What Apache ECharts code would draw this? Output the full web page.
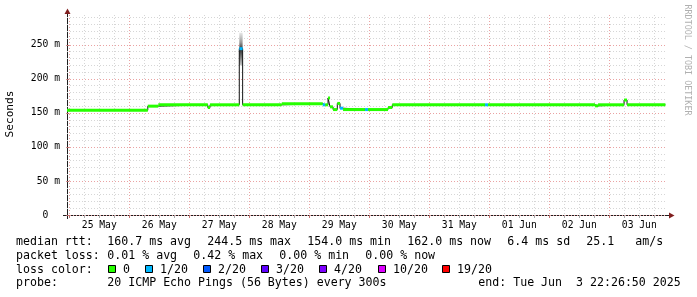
<!DOCTYPE html>
<html><head><meta charset="utf-8">
<script src="https://cdn.jsdelivr.net/npm/echarts@6/dist/echarts.min.js"></script>
<style>html,body{margin:0;padding:0;background:#fff}#c{width:697px;height:297px}</style>
</head><body><div id="c"></div>
<script>
// ---------------- data ----------------
const axisStart = '2025-05-24 23:05';
const axisEnd   = '2025-06-03 23:05';
const dataEnd   = '2025-06-03 22:26';
// median RTT (ms) step segments: value holds from segStart[i] to the next start
const segStart = [
  '2025-05-24 23:05','2025-05-26 07:24','2025-05-26 11:36','2025-05-27 07:24','2025-05-27 08:18',
  '2025-05-27 20:00','2025-05-27 21:20','2025-05-28 13:00','2025-05-29 05:24','2025-05-29 06:24',
  '2025-05-29 07:30','2025-05-29 08:18','2025-05-29 09:30','2025-05-29 11:12','2025-05-29 12:18',
  '2025-05-29 13:30','2025-05-29 22:18','2025-05-29 23:30','2025-05-30 07:30','2025-05-30 09:12',
  '2025-05-31 22:18','2025-05-31 23:30','2025-06-02 18:18','2025-06-02 19:30','2025-06-03 05:54',
  '2025-06-03 07:06'
];
const segValue = [
  154, 160, 162, 158, 162,
  244.5, 162, 163.5, 162, 162,
  172, 159, 155, 164, 157,
  155, 155, 155, 158, 162,
  162, 162, 160.5, 162, 169,
  162
];
// loss bucket index per segment (0 = no loss, 1 = 1/20, ...)
const segLoss = [
  0, 0, 0, 0, 0,
  1, 0, 0, 1, 0,
  0, 0, 0, 0, 1,
  0, 1, 0, 0, 0,
  1, 0, 0, 0, 0,
  0
];
// smoke (ping spread) visible around the spike
const smokeStart = ['2025-05-27 20:00'];
const smokeEnd   = ['2025-05-27 21:20'];
const smokeLow   = [220];
const smokeMid   = [244.5];
const smokeHigh  = [268];

const dayLabels = ['25 May','26 May','27 May','28 May','29 May','30 May','31 May','01 Jun','02 Jun','03 Jun'];
const yTickValues = [0, 50, 100, 150, 200, 250];
const yTickLabels = ['0  ', '50 m', '100 m', '150 m', '200 m', '250 m'];
const yMax = 294;

const lossLabels = ['0', '1/20', '2/20', '3/20', '4/20', '10/20', '19/20'];
const lossColors = ['#26ff00', '#00b8ff', '#0059ff', '#5e00ff', '#7e00ff', '#dd00ff', '#ff0000'];

const rttTitle = 'median rtt:';
const rttStats = ['160.7 ms avg', '244.5 ms max', '154.0 ms min', '162.0 ms now', '6.4 ms sd'];
const ampValue = '25.1';
const ampUnit = 'am/s';
const lossTitle = 'packet loss:';
const lossStats = ['0.01 % avg', '0.42 % max', '0.00 % min', '0.00 % now'];
const colorTitle = 'loss color:';
const probeTitle = 'probe:';
const probeText = '20 ICMP Echo Pings (56 Bytes) every 300s';
const endText = 'end: Tue Jun  3 22:26:50 2025';
const yName = 'Seconds';
const credit = 'RRDTOOL / TOBI OETIKER';

// ---------------- helpers ----------------
const H0 = Date.UTC(2025, 4, 25, 0, 0);
function toH(s) {
  const m = s.match(/(\d+)-(\d+)-(\d+) (\d+):(\d+)/);
  return (Date.UTC(+m[1], +m[2] - 1, +m[3], +m[4], +m[5]) - H0) / 3600000;
}
const xMin = toH(axisStart), xMax = toH(axisEnd);
const starts = segStart.map(toH);
const ends = starts.slice(1).concat([toH(dataEnd)]);
const segs = starts.map((s, i) => [s, ends[i], segValue[i], segLoss[i]]);
const medianLine = starts.map((s, i) => [s, segValue[i]]).concat([[toH(dataEnd), segValue[segValue.length - 1]]]);
const smoke = smokeStart.map((s, i) => [toH(s), toH(smokeEnd[i]), smokeLow[i], smokeMid[i], smokeHigh[i]]);

const minorX = [], majorX = [];
for (let h = Math.ceil(xMin / 6) * 6; h <= xMax; h += 6) ((h % 24) === 0 ? majorX : minorX).push(h);
const noonX = dayLabels.map((_, i) => 12 + 24 * i);
const minorY = [], majorY = [];
for (let v = 0; v <= yMax; v += 10) ((v % 50) === 0 ? majorY : minorY).push(v);

const MONO = 'DejaVu Sans Mono';
const minorColor = '#d6d6d6';
const majorColor = '#eaa2a2';

// ---------------- legend graphics ----------------
const LX = 16, VX = 107.3;
const rows = [241.5, 255.5, 269.5, 283.3];
const g = [];
function txt(x, y, s, extra) {
  g.push(Object.assign({type: 'text', x: x, y: y, style: {text: s, fontFamily: MONO, fontSize: 11.6, fill: '#000', verticalAlign: 'middle', align: 'left'}}, extra || {}));
}
txt(LX, rows[0], rttTitle);
rttStats.forEach((s, i) => txt(VX + 100 * i, rows[0], s));
txt(586.3, rows[0], ampValue);
txt(635.3, rows[0], ampUnit);
txt(LX, rows[1], lossTitle);
lossStats.forEach((s, i) => txt(VX + 86 * i, rows[1], s));
txt(LX, rows[2], colorTitle);
const boxX = [108, 145, 203, 261, 319, 378, 442];
lossLabels.forEach((s, i) => {
  g.push({type: 'rect', shape: {x: boxX[i] + 0.5, y: 265.5, width: 7, height: 7}, style: {fill: lossColors[i], stroke: '#000', lineWidth: 1}});
  txt(boxX[i] + 15, rows[2], s);
});
txt(LX, rows[3], probeTitle);
txt(VX, rows[3], probeText);
txt(478.3, rows[3], endText);
g.push({type: 'text', x: 10.5, y: 114, rotation: Math.PI / 2, style: {text: yName, fontFamily: MONO, fontSize: 11.1, fill: '#000', align: 'center', verticalAlign: 'middle'}});
g.push({type: 'text', x: 687, y: 60, rotation: -Math.PI / 2, style: {text: credit, fontFamily: MONO, fontSize: 8.4, fill: '#b0b0b0', align: 'center', verticalAlign: 'middle'}});
// axis extensions and arrows (rrdtool style)
g.push({type: 'line', shape: {x1: 63, y1: 215.5, x2: 669, y2: 215.5}, style: {stroke: '#1f1f1f', lineWidth: 1}});
g.push({type: 'line', shape: {x1: 67.5, y1: 219, x2: 67.5, y2: 12}, style: {stroke: '#1f1f1f', lineWidth: 1}});
g.push({type: 'polygon', shape: {points: [[64.5, 14], [70.5, 14], [67.5, 8.5]]}, style: {fill: '#801f1f'}});
g.push({type: 'polygon', shape: {points: [[669, 212.5], [669, 218.5], [674.5, 215.5]]}, style: {fill: '#801f1f'}});

// ---------------- chart ----------------
const chart = echarts.init(document.getElementById('c'), null, {renderer: 'canvas'});
chart.setOption({
  animation: false,
  backgroundColor: '#ffffff',
  grid: {left: 67, top: 15, width: 600, height: 200, containLabel: false, outerBoundsMode: 'none'},
  xAxis: [
    {type: 'value', min: xMin, max: xMax, position: 'bottom',
      axisLine: {show: false},
      axisTick: {show: true, customValues: minorX, length: 3, lineStyle: {color: '#a8a8a8'}},
      splitLine: {show: true, lineStyle: {color: minorColor, type: [1, 2], width: 1}},
      axisLabel: {show: true, customValues: noonX, formatter: v => dayLabels[Math.round((v - 12) / 24)],
        fontFamily: MONO, fontSize: 9.7, color: '#000', margin: 5}},
    {type: 'value', min: xMin, max: xMax, position: 'bottom',
      axisLine: {show: false}, axisTick: {show: true, customValues: majorX, length: 3, lineStyle: {color: '#c07070'}},
      splitLine: {show: true, lineStyle: {color: majorColor, type: [1, 2], width: 1}},
      axisLabel: {show: false}}
  ],
  yAxis: [
    {type: 'value', min: 0, max: yMax, position: 'left',
      axisLine: {show: false},
      axisTick: {show: false, customValues: minorY},
      splitLine: {show: true, lineStyle: {color: minorColor, type: [1, 2], width: 1}},
      axisLabel: {show: true, customValues: yTickValues, formatter: v => yTickLabels[yTickValues.indexOf(v)],
        fontFamily: MONO, fontSize: 9.7, color: '#000', margin: 7}},
    {type: 'value', min: 0, max: yMax, position: 'left',
      axisLine: {show: false},
      axisTick: {show: true, customValues: majorY, length: 3, lineStyle: {color: '#c07070'}},
      splitLine: {show: true, lineStyle: {color: majorColor, type: [1, 2], width: 1}},
      axisLabel: {show: false}}
  ],
  graphic: {elements: g},
  series: [
    {type: 'custom', xAxisIndex: 0, yAxisIndex: 0, z: 2, clip: true,
      encode: {x: [0, 1], y: [2, 4]}, data: smoke,
      renderItem: (params, api) => {
        const t = api.coord([api.value(0), api.value(4)]);
        const m = api.coord([api.value(1), api.value(3)]);
        const b = api.coord([api.value(0), api.value(2)]);
        const w = m[0] - t[0];
        return {type: 'group', children: [
          {type: 'rect', shape: {x: t[0], y: t[1], width: w, height: m[1] - t[1]},
            style: {fill: new echarts.graphic.LinearGradient(0, 0, 0, 1, [{offset: 0, color: '#e8e8e8'}, {offset: 0.6, color: '#9a9a9a'}, {offset: 1, color: '#3a3a3a'}])}},
          {type: 'rect', shape: {x: t[0], y: m[1], width: w, height: b[1] - m[1]},
            style: {fill: new echarts.graphic.LinearGradient(0, 0, 0, 1, [{offset: 0, color: '#2a2a2a'}, {offset: 1, color: '#c8c8c8'}])}}
        ]};
      }},
    {type: 'line', xAxisIndex: 0, yAxisIndex: 0, z: 3, step: 'end', data: medianLine,
      symbol: 'none', lineStyle: {color: '#141414', width: 1}},
    {type: 'custom', xAxisIndex: 0, yAxisIndex: 0, z: 4, clip: true,
      encode: {x: [0, 1], y: 2}, data: segs,
      renderItem: (params, api) => {
        const a = api.coord([api.value(0), api.value(2)]);
        const b = api.coord([api.value(1), api.value(2)]);
        return {type: 'rect', shape: {x: a[0], y: a[1] - 1.5, width: b[0] - a[0], height: 3},
          style: {fill: lossColors[api.value(3)]}};
      }}
  ]
});
</script>
</body></html>
